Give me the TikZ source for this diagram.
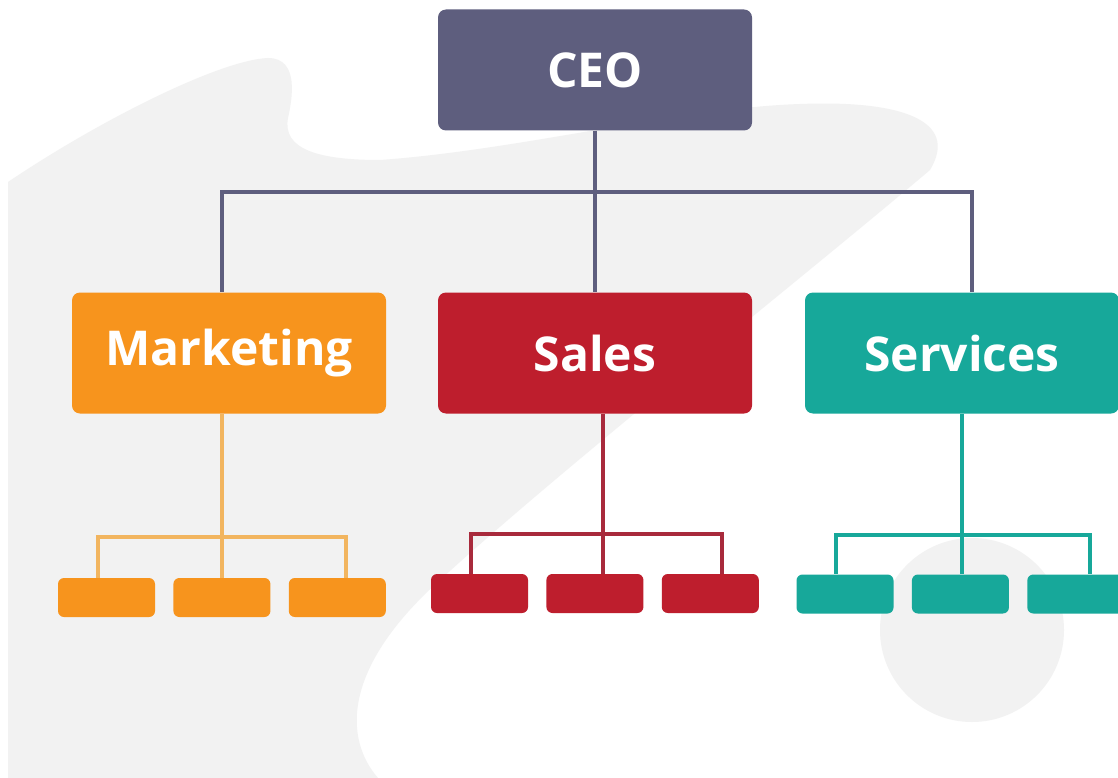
\documentclass[tikz,border=0pt]{standalone}
\usepackage{fontspec}
\setmainfont{Open Sans}
\usetikzlibrary{positioning}

\definecolor{ceoblue}{HTML}{5E5E7E}
\definecolor{mktorange}{HTML}{F7941D}
\definecolor{mktline}{HTML}{F2B55F}
\definecolor{salesred}{HTML}{BE1E2D}
\definecolor{salesline}{HTML}{A82A3C}
\definecolor{servteal}{HTML}{17A89A}
\definecolor{bggrey}{HTML}{F2F2F2}

\begin{document}
\begin{tikzpicture}[x=1pt, y=-1pt,
		unit/.style={rounded corners=8pt, minimum width=314pt, minimum height=121pt, inner sep=0pt,
			text=white, font=\fontsize{48}{52}\selectfont\bfseries},
		team/.style={rounded corners=6pt, minimum width=97pt, minimum height=39pt, inner sep=0pt},
		link/.style={line width=4pt}]
		\useasboundingbox (0,0) rectangle (1118,778);
		\clip (0,0) rectangle (1118,778);
		\fill[white] (0,0) rectangle (1118,778);

		% background shapes
		\fill[bggrey] (8,778) -- (8,182) .. controls (100,120) and (220,60) .. (268,58)
			.. controls (300,58) and (292,100) .. (288,118)
			.. controls (282,150) and (320,160) .. (380,160)
			.. controls (520,150) and (680,108) .. (800,104)
			.. controls (900,100) and (960,120) .. (930,170)
			.. controls (800,280) and (560,470) .. (440,580)
			.. controls (340,670) and (345,740) .. (378,778) -- cycle;
		\fill[bggrey] (972,630) circle (92);

		% CEO
		\node[unit, fill=ceoblue] (ceo) at (595,70) {CEO};

		% departments
		\node[unit, fill=mktorange] (mkt) at (229,353) {Marketing};
		\node[unit, fill=salesred] (sales) at (595,353) {Sales};
		\node[unit, fill=servteal] (serv) at (962,353) {Services};

		\draw[link, ceoblue] (ceo.south) -- ++(0,61) coordinate (bus);
		\draw[link, ceoblue] (bus) -| ([xshift=-7pt]mkt.north);
		\draw[link, ceoblue] (bus) -| (sales.north);
		\draw[link, ceoblue] (bus) -| ([xshift=10pt]serv.north);

		% marketing teams
		\node[team, fill=mktorange] (mkt1) at (106.5,597.5) {};
		\node[team, fill=mktorange, right=18pt of mkt1] (mkt2) {};
		\node[team, fill=mktorange, right=18pt of mkt2] (mkt3) {};
		\draw[link, mktline] ([xshift=-7pt]mkt.south) -- ++(0,123) coordinate (mktbus);
		\draw[link, mktline] (mktbus) -| ([xshift=-9pt]mkt1.north);
		\draw[link, mktline] (mktbus) -- (mktbus |- mkt2.north);
		\draw[link, mktline] (mktbus) -| ([xshift=9pt]mkt3.north);

		% sales teams
		\node[team, fill=salesred] (sales1) at (479.5,593.5) {};
		\node[team, fill=salesred, right=18pt of sales1] (sales2) {};
		\node[team, fill=salesred, right=18pt of sales2] (sales3) {};
		\draw[link, salesline] ([xshift=8pt]sales.south) -- ++(0,120) coordinate (salesbus);
		\draw[link, salesline] (salesbus) -| ([xshift=-9pt]sales1.north);
		\draw[link, salesline] (salesbus) -- (salesbus |- sales2.north);
		\draw[link, salesline] (salesbus) -| ([xshift=12pt]sales3.north);

		% services teams
		\node[team, fill=servteal] (serv1) at (845,594) {};
		\node[team, fill=servteal, right=18pt of serv1] (serv2) {};
		\node[team, fill=servteal, right=18pt of serv2] (serv3) {};
		\draw[link, servteal] (serv.south) -- ++(0,121) coordinate (servbus);
		\draw[link, servteal] (servbus) -| ([xshift=-9pt]serv1.north);
		\draw[link, servteal] (servbus) -- (servbus |- serv2.north);
		\draw[link, servteal] (servbus) -| ([xshift=14pt]serv3.north);
	\end{tikzpicture}
\end{document}
